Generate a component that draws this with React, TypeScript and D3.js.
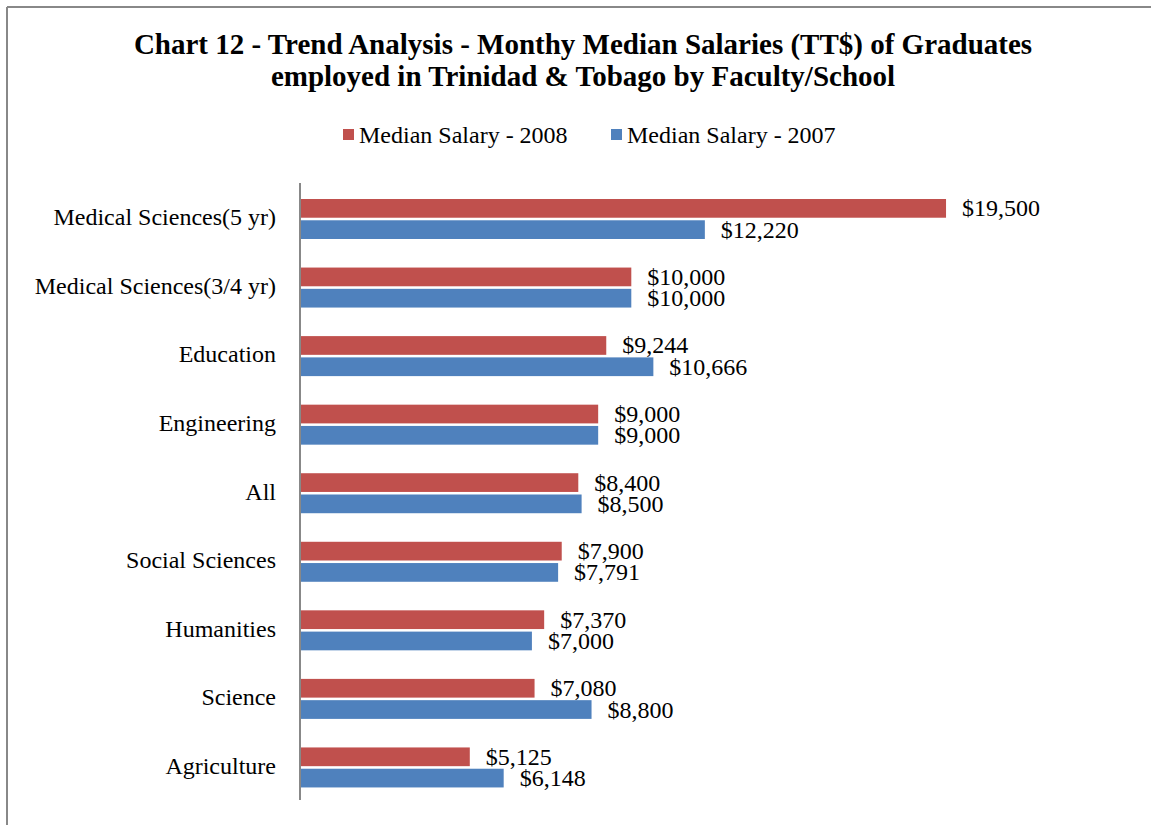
import React from 'react';
import * as d3 from 'd3';

const categories = [
  'Medical Sciences(5 yr)',
  'Medical Sciences(3/4 yr)',
  'Education',
  'Engineering',
  'All',
  'Social Sciences',
  'Humanities',
  'Science',
  'Agriculture',
];
const salary2008 = [19500, 10000, 9244, 9000, 8400, 7900, 7370, 7080, 5125];
const salary2007 = [12220, 10000, 10666, 9000, 8500, 7791, 7000, 8800, 6148];
const seriesNames = ['Median Salary - 2008', 'Median Salary - 2007'];
const seriesColors = ['#C0504D', '#4F81BD'];

const W = 1151;
const H = 825;
const FONT = 'Liberation Serif, DejaVu Serif, serif';

const App: React.FC = () => {
  const x = d3.scaleLinear().domain([0, 20000]).range([300, 962.6]);
  const y = d3.scaleBand<string>().domain(categories).range([183, 800]);
  const inner = d3.scaleBand<string>().domain(seriesNames).range([16, 56]).paddingInner(0.12);
  const fmt = (v: number) => '$' + d3.format(',')(v);
  const values = [salary2008, salary2007];

  return (
    <svg width={W} height={H} style={{ position: 'absolute', left: 0, top: 0, background: '#fff' }}>
      {/* frame */}
      <line x1={7} y1={7} x2={W} y2={7} stroke="#888" strokeWidth={2} />
      <line x1={7} y1={7} x2={7} y2={H} stroke="#888" strokeWidth={2} />

      {/* title */}
      <text x={583} y={54} textAnchor="middle" fontFamily={FONT} fontWeight="bold" fontSize={29}>
        Chart 12 - Trend Analysis - Monthy Median Salaries (TT$) of Graduates
      </text>
      <text x={583} y={86} textAnchor="middle" fontFamily={FONT} fontWeight="bold" fontSize={29}>
        employed in Trinidad &amp; Tobago by Faculty/School
      </text>

      {/* legend */}
      {seriesNames.map((name, i) => {
        const lx = i === 0 ? 343 : 611;
        return (
          <g key={name}>
            <rect x={lx} y={129} width={11} height={11} fill={seriesColors[i]} />
            <text x={lx + 16} y={143} fontFamily={FONT} fontSize={24}>{name}</text>
          </g>
        );
      })}

      {/* bars */}
      {categories.map((c, ci) => (
        <g key={c}>
          <text
            x={276}
            y={(y(c) ?? 0) + y.bandwidth() / 2 + 8}
            textAnchor="end"
            fontFamily={FONT}
            fontSize={24}
          >
            {c}
          </text>
          {seriesNames.map((s, si) => {
            const by = (y(c) ?? 0) + (inner(s) ?? 0);
            const v = values[si][ci];
            return (
              <g key={s}>
                <rect x={x(0)} y={by} width={x(v) - x(0)} height={inner.bandwidth()} fill={seriesColors[si]} />
                <text x={x(v) + 16} y={by + inner.bandwidth() / 2 + 8} fontFamily={FONT} fontSize={24}>
                  {fmt(v)}
                </text>
              </g>
            );
          })}
        </g>
      ))}

      {/* axis */}
      <line x1={x(0)} y1={183} x2={x(0)} y2={800} stroke="#888" strokeWidth={2} />
    </svg>
  );
};

export default App;
